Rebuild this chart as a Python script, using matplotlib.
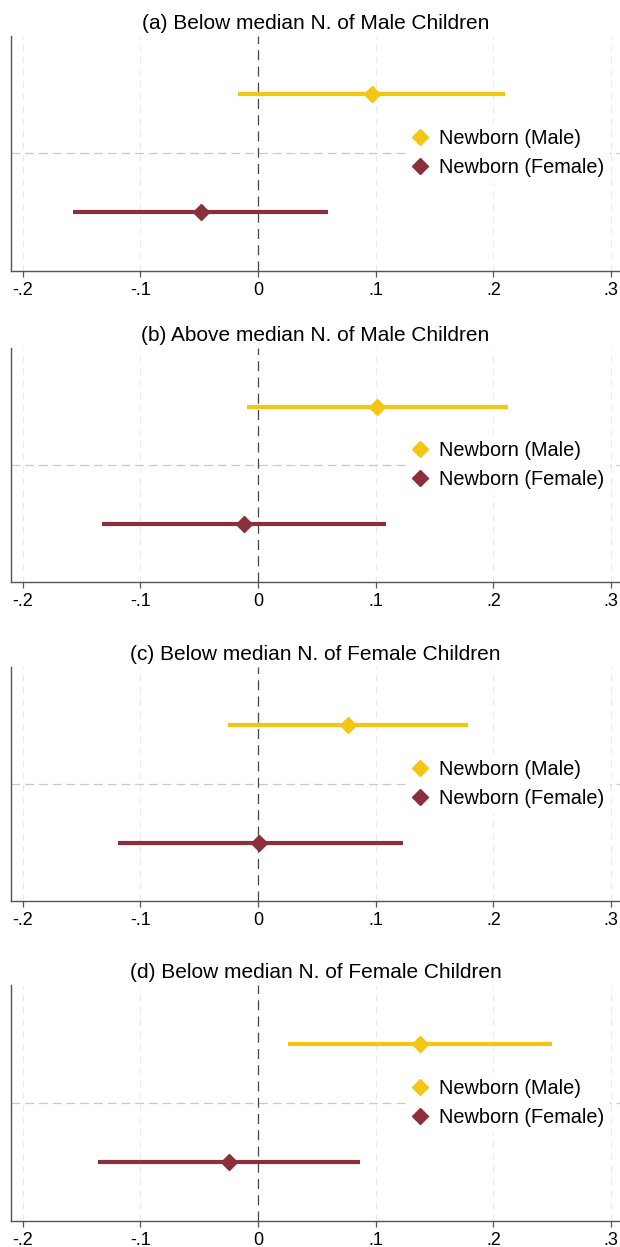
import matplotlib
matplotlib.use("Agg")
import matplotlib.pyplot as plt
from matplotlib.lines import Line2D

plt.rcParams["font.family"] = ["Liberation Sans", "DejaVu Sans"]

# panel titles
titles = [
    "(a) Below median N. of Male Children",
    "(b) Above median N. of Male Children",
    "(c) Below median N. of Female Children",
    "(d) Below median N. of Female Children",
]

series = ["Newborn (Male)", "Newborn (Female)"]

# point estimates per panel: [male, female]
coef = [
    [0.0965, -0.0487],
    [0.1015, -0.0121],
    [0.0766, 0.0010],
    [0.1378, -0.0245],
]
# confidence interval bounds per panel: [male, female]
ci_low = [
    [-0.0168, -0.1570],
    [-0.0094, -0.1328],
    [-0.0252, -0.1190],
    [0.0252, -0.1361],
]
ci_high = [
    [0.2097, 0.0595],
    [0.2124, 0.1089],
    [0.1782, 0.1234],
    [0.2501, 0.0864],
]

xticks = [-0.2, -0.1, 0, 0.1, 0.2, 0.3]
xticklabels = ["-.2", "-.1", "0", ".1", ".2", ".3"]

colors = ["#F3C614", "#8B2F3A"]

W, H = 620, 1247
fig = plt.figure(figsize=(W / 100, H / 100), dpi=100)

# axes boxes in pixels (top, bottom)
boxes = [(35.7, 270.7), (348.0, 582.3), (666.7, 901.3), (985.0, 1220.7)]
left_px = 11

for i, (top, bot) in enumerate(boxes):
    ax = fig.add_axes([left_px / W, 1 - bot / H, (W - left_px) / W, (bot - top) / H])
    ax.set_xlim(-0.2101, 0.3077)
    ax.set_ylim(2.5, 0.5)

    # faint vertical grid
    for t in xticks:
        if t != 0:
            ax.axvline(t, color="#ebebeb", lw=0.8, ls=(0, (6, 5)), zorder=0)
    # separator between the two rows
    ax.axhline(1.5, color="#c8c8c8", lw=0.9, ls=(0, (7, 4)), zorder=1)
    # zero reference
    ax.axvline(0, color="#444444", lw=0.9, ls=(0, (8, 5)), zorder=2)

    for j in range(2):
        y = j + 1
        ax.plot([ci_low[i][j], ci_high[i][j]], [y, y], color=colors[j], lw=3.0,
                solid_capstyle="butt", zorder=3)
        ax.plot(coef[i][j], y, marker="D", ms=8, color=colors[j], mec=colors[j], zorder=4)

    ax.set_xticks(xticks)
    ax.set_xticklabels(xticklabels, fontsize=13)
    ax.set_yticks([])
    ax.tick_params(axis="x", length=4.5, width=0.9, color="#555555", pad=3.5)
    for s in ["top", "right"]:
        ax.spines[s].set_visible(False)
    for s in ["left", "bottom"]:
        ax.spines[s].set_color("#555555")
        ax.spines[s].set_linewidth(1.0)

    ax.set_title(titles[i], fontsize=15, pad=5)

    handles = [Line2D([], [], ls="none", marker="D", ms=8, color=c) for c in colors]
    leg = ax.legend(handles, series, loc="center left", bbox_to_anchor=(0.634, 0.5),
                    fontsize=14.3, frameon=True, facecolor="white", edgecolor="none",
                    framealpha=1, handlelength=0.7, handletextpad=0.6,
                    labelspacing=0.5, borderpad=0.3, fancybox=False)
    leg.set_zorder(5)

fig.savefig("out.png", dpi=100)
